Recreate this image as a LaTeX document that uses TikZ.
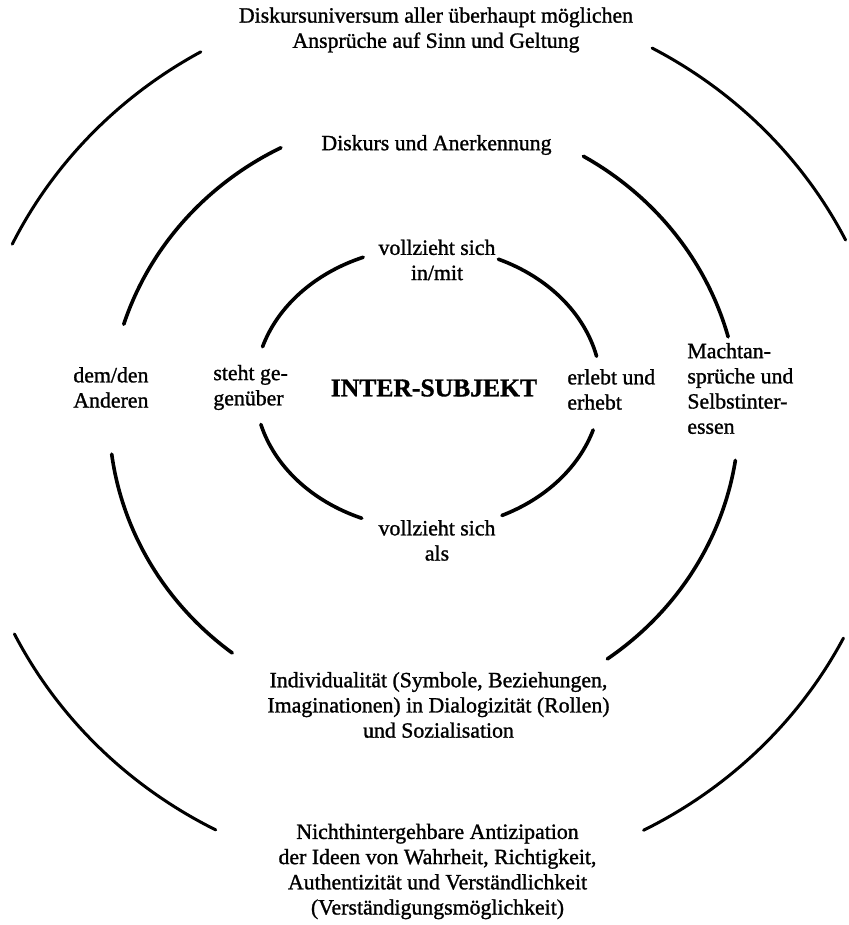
\documentclass[tikz,border=0pt]{standalone}
\usepackage{fontspec}
\newfontfamily\txt{Liberation Serif}[FakeBold=1.2]
\begin{document}
\begin{tikzpicture}[x=0.5pt,y=0.5pt,
  ring/.style={line width=1.8pt, line cap=round},
  outerring/.style={line width=1.5pt, line cap=round},
  lbl/.style={inner sep=0pt, font=\txt\fontsize{10.9}{12.6}\selectfont},
  lblc/.style={lbl, align=center},
  lbll/.style={lbl, align=left, anchor=west}]
\useasboundingbox (0,0) rectangle (849,925);
% centres of the three rings
\coordinate (ci) at (428,537);
\coordinate (cm) at (424,510);
\coordinate (co) at (430,488);
% inner ring
\draw[ring] (ci) ++(112:173 and 141) arc[start angle=112, end angle=163, x radius=173, y radius=141];
\draw[ring] (ci) ++(66:173 and 141) arc[start angle=66, end angle=13, x radius=173, y radius=141];
\draw[ring] (ci) ++(195:173 and 141) arc[start angle=195, end angle=247.5, x radius=173, y radius=141];
\draw[ring] (ci) ++(-17.3:173 and 141) arc[start angle=-17.3, end angle=-64.7, x radius=173, y radius=141];
% middle ring
\draw[ring] (cm) ++(117:315 and 300) arc[start angle=117, end angle=162.4, x radius=315, y radius=300];
\draw[ring] (cm) ++(59.6:315 and 300) arc[start angle=59.6, end angle=15.1, x radius=315, y radius=300];
\draw[ring] (cm) ++(187.5:315 and 300) arc[start angle=187.5, end angle=232.5, x radius=315, y radius=300];
\draw[ring] (cm) ++(-8.7:315 and 300) arc[start angle=-8.7, end angle=-54.4, x radius=315, y radius=300];
% outer ring
\draw[outerring] (co) ++(119.6:464 and 443) arc[start angle=119.6, end angle=154.2, x radius=464, y radius=443];
\draw[outerring] (co) ++(61.4:464 and 443) arc[start angle=61.4, end angle=26.4, x radius=464, y radius=443];
\draw[outerring] (co) ++(206.4:464 and 443) arc[start angle=206.4, end angle=242.5, x radius=464, y radius=443];
\draw[outerring] (co) ++(-27:464 and 443) arc[start angle=-27, end angle=-62.6, x radius=464, y radius=443];
% labels
\node[lblc] (universum) at (436,895) {Diskursuniversum aller überhaupt möglichen\\Ansprüche auf Sinn und Geltung};
\node[lblc] (diskurs) at (436.5,780) {Diskurs und Anerkennung};
\node[lblc] (inmit) at (437,665) {vollzieht sich\\in/mit};
\node[lbll] (steht) at (213,537.5) {steht ge-\\genüber};
\node[inner sep=0pt, font=\txt\fontsize{12.8}{15}\selectfont\bfseries] (inter) at (434,537) {INTER-SUBJEKT};
\node[lbll] (erlebt) at (567,535.5) {erlebt und\\erhebt};
\node[lbll] (anderen) at (73,537.5) {dem/den\\Anderen};
\node[lbll] (macht) at (687,536.5) {Machtan-\\sprüche und\\Selbstinter-\\essen};
\node[lblc] (als) at (437,384.5) {vollzieht sich\\als};
\node[lblc] (indiv) at (438.5,220) {Individualität (Symbole, Beziehungen,\\Imaginationen) in Dialogizität (Rollen)\\und Sozialisation};
\node[lblc] (antiz) at (437.5,53.5) {Nichthintergehbare Antizipation\\der Ideen von Wahrheit, Richtigkeit,\\Authentizität und Verständlichkeit\\(Verständigungsmöglichkeit)};
\end{tikzpicture}
\end{document}
